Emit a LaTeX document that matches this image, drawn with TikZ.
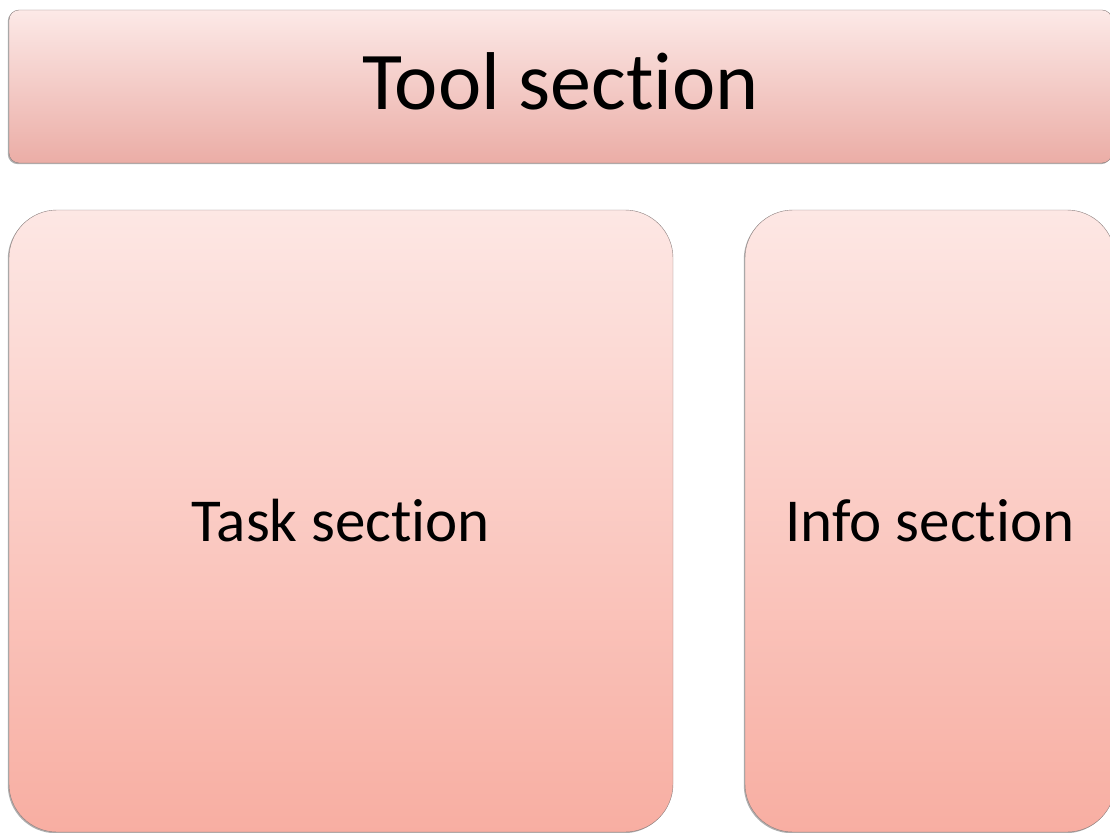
\documentclass[tikz,border=0pt]{standalone}
\usepackage{fontspec}
\setmainfont{Carlito}[Ligatures=NoCommon]
\usepackage{tikz}
\usepackage{xcolor}
\usetikzlibrary{shadows}
\definecolor{boxline}{HTML}{8C7F7E}
\definecolor{tooltop}{HTML}{FCE9E7}
\definecolor{toolbottom}{HTML}{EBADA6}
\definecolor{paneltop}{HTML}{FDE7E4}
\definecolor{panelbottom}{HTML}{F8AEA2}
\tikzset{
    section-box/.style = {draw=boxline, thin, rectangle, inner sep=0pt, text=black,
        drop shadow={shadow xshift=-1.2pt, shadow yshift=-1.2pt, opacity=0.45, fill=black!70}},
    tool-box/.style = {section-box, rounded corners=10pt, top color=tooltop, bottom color=toolbottom,
        font=\fontsize{82}{90}\selectfont, text depth=10pt},
    panel-box/.style = {section-box, rounded corners=48pt, top color=paneltop, bottom color=panelbottom,
        font=\fontsize{61}{70}\selectfont},
}

\begin{document}
\begin{tikzpicture}[x=1pt, y=-1pt]
\useasboundingbox (0,0) rectangle (1110,832);
\clip (0,0) rectangle (1110,832);
\node [tool-box, minimum width=1103pt, minimum height=153pt] (tool) at (560.5,86.5) {Tool section};
\node [panel-box, minimum width=664pt, minimum height=622pt] (task) at (341,521) {Task section};
\node [panel-box, minimum width=370pt, minimum height=622pt] (info) at (930,521) {Info section};
\end{tikzpicture}
\end{document}
